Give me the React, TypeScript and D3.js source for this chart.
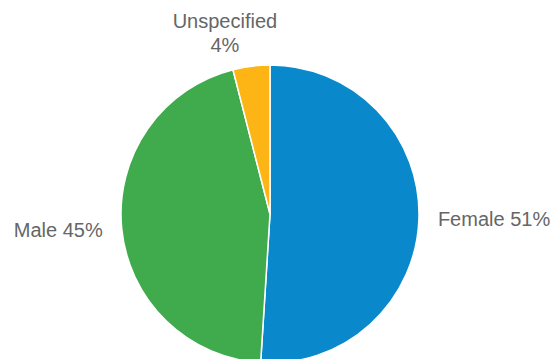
import React from "react";
import * as d3 from "d3";

const categories = ["Female", "Male", "Unspecified"];
const values = [51, 45, 4];
const colors = ["#0a88cc", "#3fab4d", "#fdb515"];

const W = 555;
const H = 359;
const cx = 270;
const cy = 214;
const R = 149;
const LABEL_R = 168;

export default function App() {
  const data = categories.map((c, i) => ({ name: c, value: values[i], color: colors[i] }));
  const pie = d3.pie<any>().value((d: any) => d.value).sort(null);
  const arcs = pie(data);
  const arc = d3.arc<any>().innerRadius(0).outerRadius(R);

  return (
    <svg
      width={W}
      height={H}
      style={{ position: "absolute", left: 0, top: 0, background: "#fff" }}
      fontFamily="'Liberation Sans', Arial, sans-serif"
    >
      <g transform={`translate(${cx},${cy})`}>
        {arcs.map((a, i) => (
          <path key={i} d={arc(a) as string} fill={a.data.color} stroke="#fff" strokeWidth={1.5} />
        ))}
      </g>
      {arcs.map((a, i) => {
        const mid = (a.startAngle + a.endAngle) / 2;
        const x = cx + LABEL_R * Math.sin(mid);
        const y = cy - LABEL_R * Math.cos(mid);
        const label = `${a.data.name} ${a.data.value}%`;
        const nearTop = Math.cos(mid) > 0.9;
        if (nearTop) {
          return (
            <text key={i} x={x - 24} y={y - 19} textAnchor="middle" fontSize={20} fill="#666">
              <tspan x={x - 24} dy={0}>{a.data.name}</tspan>
              <tspan x={x - 24} dy={24}>{`${a.data.value}%`}</tspan>
            </text>
          );
        }
        const anchor = Math.sin(mid) >= 0 ? "start" : "end";
        return (
          <text key={i} x={x} y={y} dy="0.35em" textAnchor={anchor} fontSize={20} fill="#666">
            {label}
          </text>
        );
      })}
    </svg>
  );
}
